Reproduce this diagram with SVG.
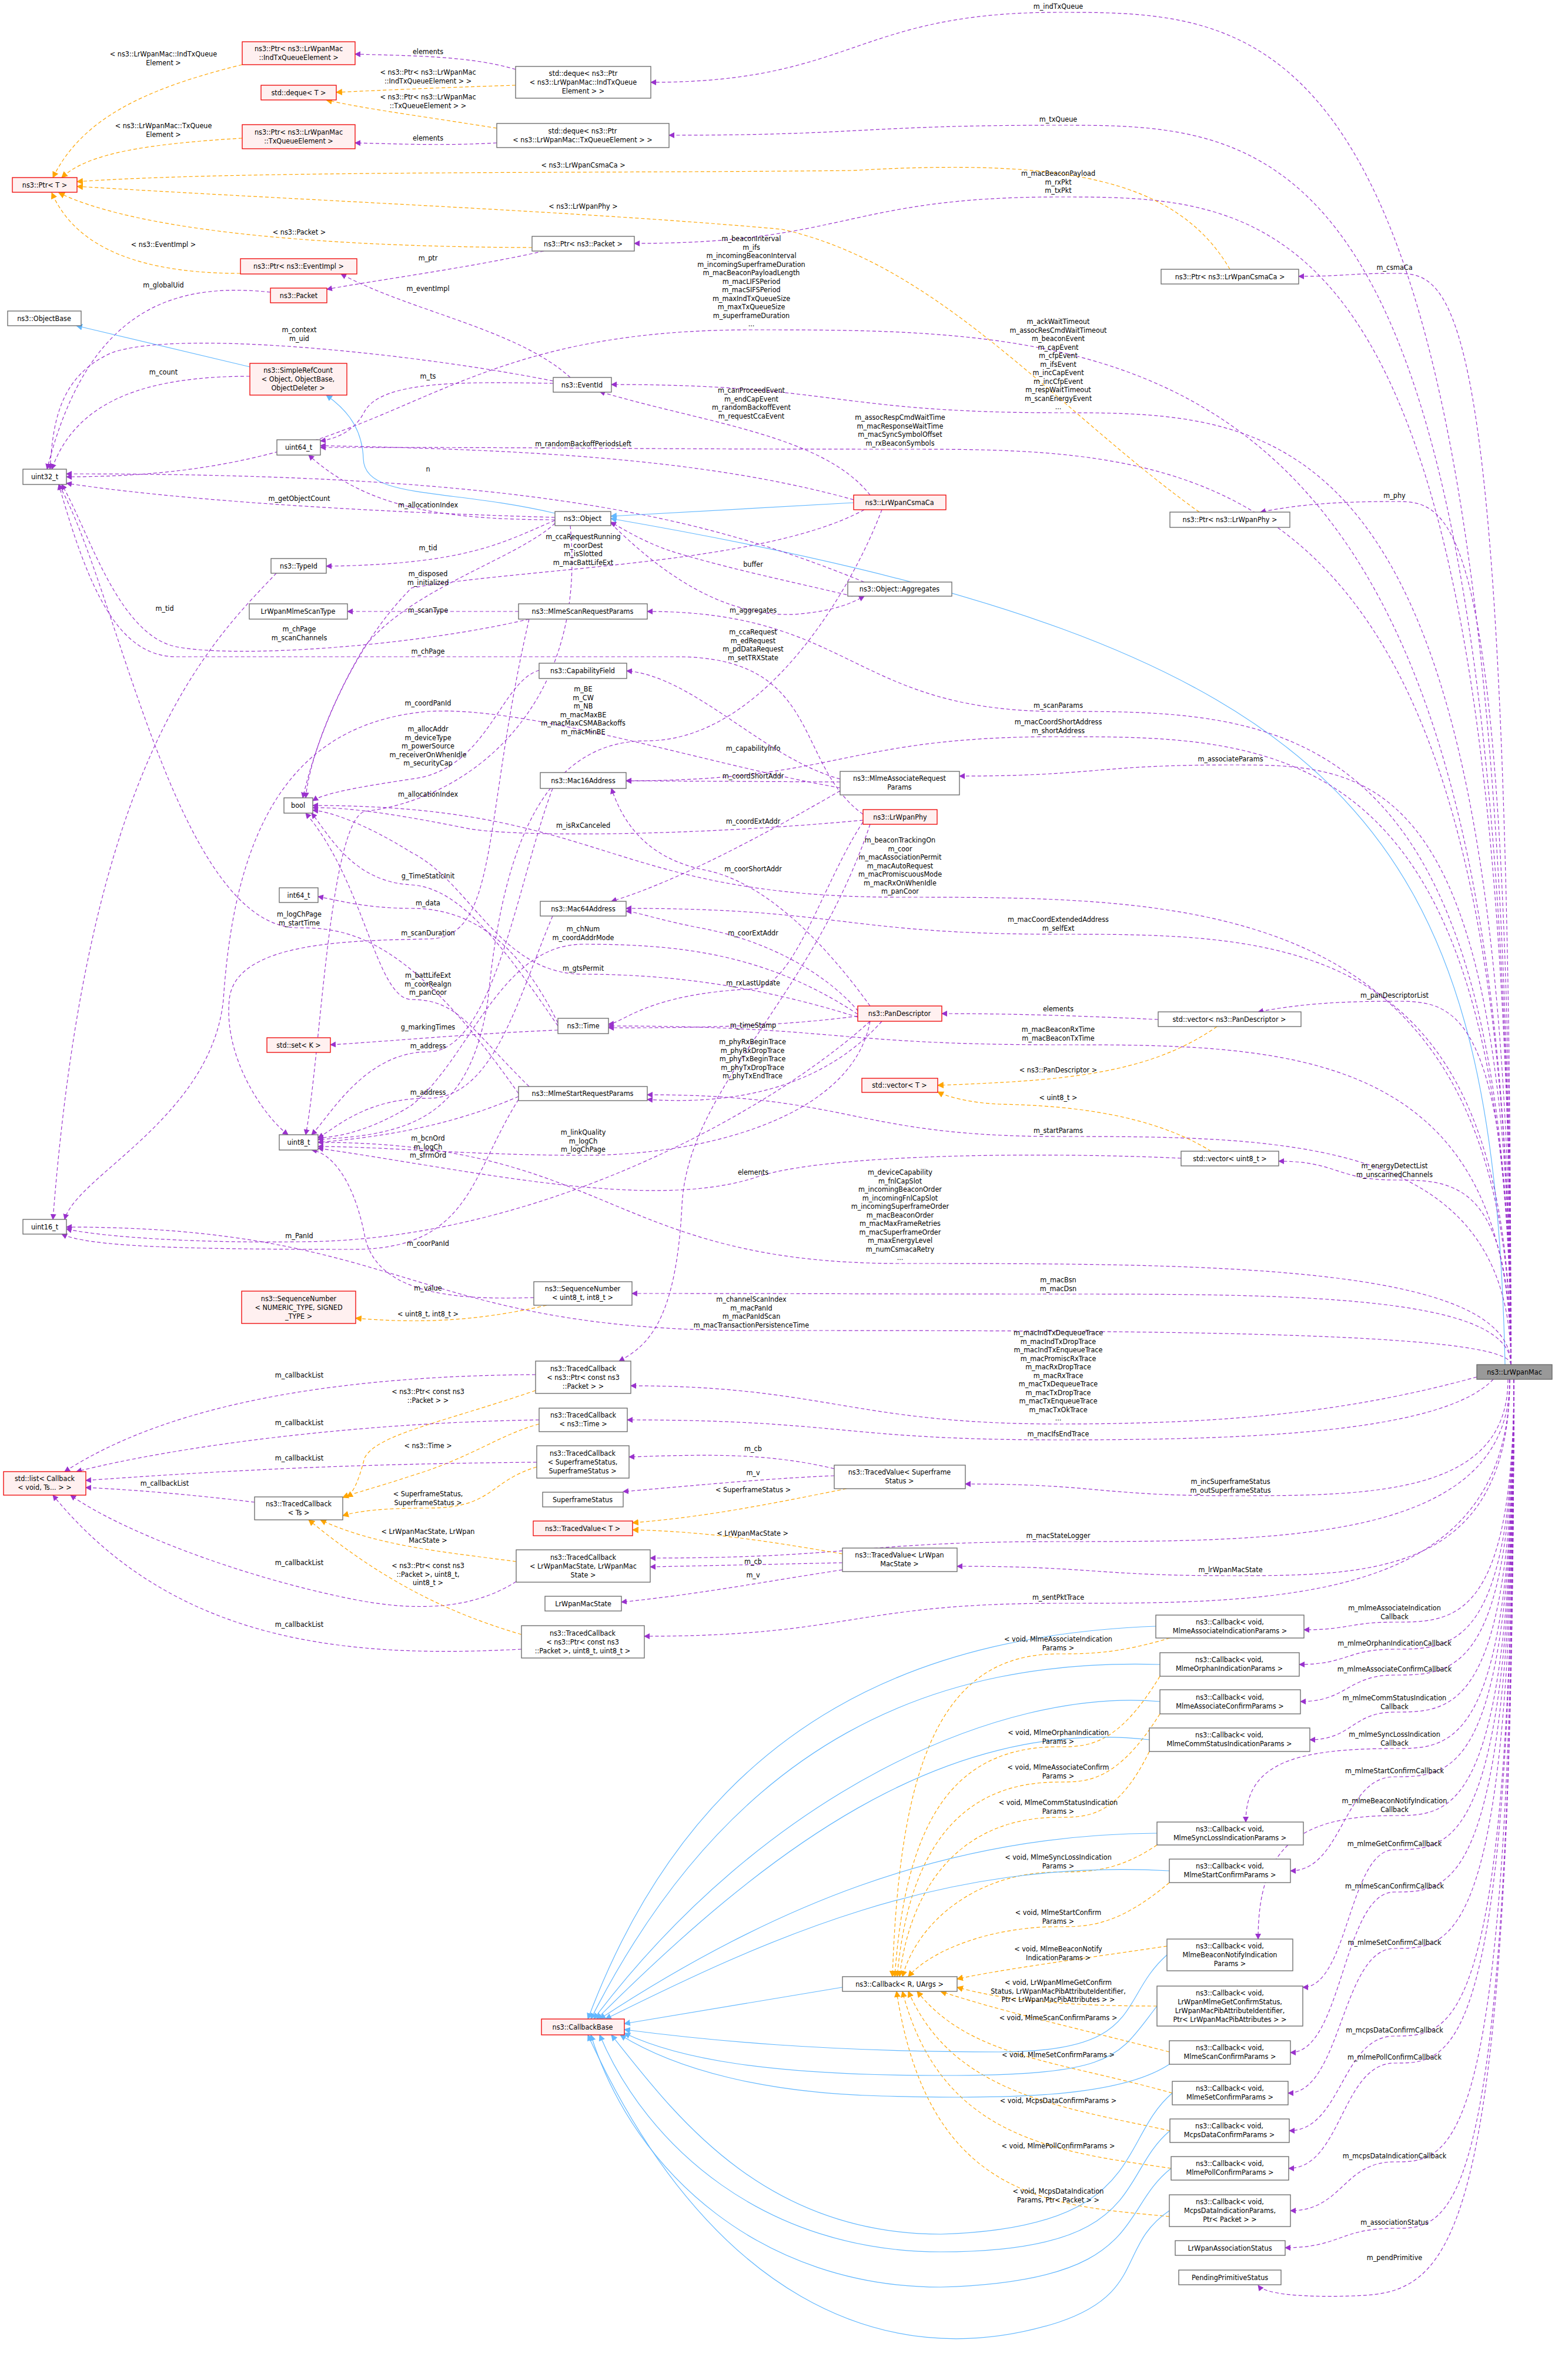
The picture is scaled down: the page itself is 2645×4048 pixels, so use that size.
<svg xmlns="http://www.w3.org/2000/svg" width="2645" height="4048" viewBox="0 0 2645 4048">
<style>
text{font-family:"DejaVu Sans Condensed","DejaVu Sans","Liberation Sans",sans-serif;font-size:12.5px;fill:#000}
.n rect{fill:#fff;stroke:#666;stroke-width:1.3}
.r rect{fill:#fff0f0;stroke:#e00;stroke-width:1.3}
.m rect{fill:#999;stroke:#666;stroke-width:1.3}
.n text,.r text,.m text,.l{text-anchor:middle}
.e path{fill:none;stroke:#9a32cd;stroke-width:1.2;stroke-dasharray:6,4;marker-end:url(#ap)}
.e path.o{stroke:#ffa500;marker-end:url(#ao)}
.e path.b{stroke:#63b8ff;stroke-dasharray:none;marker-end:url(#ab)}
</style>
<defs>
<marker id="ap" viewBox="0 0 10 10" refX="9" refY="5" markerWidth="10" markerHeight="10" markerUnits="userSpaceOnUse" orient="auto"><path d="M0,0 L10,5 L0,10 z" fill="#9a32cd"/></marker>
<marker id="ao" viewBox="0 0 10 10" refX="9" refY="5" markerWidth="11" markerHeight="11" markerUnits="userSpaceOnUse" orient="auto"><path d="M0,0 L10,5 L0,10 z" fill="#ffa500"/></marker>
<marker id="ab" viewBox="0 0 10 10" refX="9" refY="5" markerWidth="11" markerHeight="11" markerUnits="userSpaceOnUse" orient="auto"><path d="M0,0 L10,5 L0,10 z" fill="#63b8ff"/></marker>
</defs>
<rect width="2645" height="4048" fill="#fff"/>
<g id="connectors" class="e">
<path d="M2570 2321 C2570 21 2185 21 1800 21 C1453 21 1453 140 1107 140"/>
<path d="M2570 2321 C2570 213 2185 213 1800 213 C1469 213 1469 230 1138 230"/>
<path d="M2570 2321 C2570 335 2185 335 1800 335 C1440 335 1440 414 1079 414"/>
<path d="M2570 2321 C2570 465 2471 465 2372 465 C2290 465 2290 470 2209 470"/>
<path d="M2570 2321 C2570 561 1924 561 1278 561 C695 561 695 811 113 811"/>
<path d="M2570 2321 C2570 702 2185 702 1800 702 C1420 702 1420 654 1040 654"/>
<path d="M2570 2321 C2570 764 2050 764 1531 764 C1038 764 1038 761 545 761"/>
<path d="M2570 2321 C2570 853 2471 853 2372 853 C2258 853 2200 860 2144 871"/>
<path class="b" d="M2560 2321 C2540 1400 2300 1100 1039 882"/>
<path d="M2570 2321 C2570 1210 2185 1210 1800 1210 C1450 1210 1450 1040 1101 1040"/>
<path d="M2570 2321 C2570 1253 2185 1253 1800 1253 C1432 1253 1432 1328 1065 1328"/>
<path d="M2570 2321 C2570 1301 2331 1301 2093 1301 C1862 1301 1862 1320 1632 1320"/>
<path d="M2570 2321 C2570 1526 2050 1526 1531 1526 C1031 1526 1031 1370 532 1370"/>
<path d="M2570 2321 C2570 1589 2185 1589 1800 1589 C1432 1589 1432 1545 1065 1545"/>
<path d="M2570 2321 C2570 1703 2471 1703 2372 1703 C2256 1703 2200 1710 2140 1721"/>
<path d="M2570 2321 C2570 1777 2185 1777 1800 1777 C1418 1777 1418 1745 1035 1745"/>
<path d="M2570 2321 C2570 1933 2185 1933 1800 1933 C1450 1933 1450 1862 1101 1862"/>
<path d="M2570 2321 C2570 2007 2471 2007 2372 2007 C2274 2007 2274 1975 2175 1975"/>
<path d="M2570 2321 C2570 2149 2050 2149 1531 2149 C1036 2149 1036 1943 541 1943"/>
<path d="M2570 2321 C2570 2201 2185 2201 1800 2201 C1438 2201 1438 2200 1075 2200"/>
<path d="M2570 2321 C2570 2263 1924 2263 1278 2263 C695 2263 695 2087 113 2087"/>
<path d="M2512 2342 C2300 2400 2100 2422 1800 2422 C1450 2422 1400 2357 1073 2357"/>
<path d="M2540 2346 C2450 2440 2100 2449 1800 2449 C1430 2449 1430 2415 1067 2415"/>
<path d="M2565 2346 C2565 2544 2330 2544 2093 2544 C1867 2544 1867 2524 1642 2524"/>
<path d="M2568 2346 C2568 2622 2184 2622 1800 2622 C1453 2622 1453 2650 1106 2650"/>
<path d="M2568 2346 C2568 2680 2330 2680 2093 2680 C1860 2680 1860 2664 1628 2664"/>
<path d="M2568 2346 C2568 2727 2184 2727 1800 2727 C1448 2727 1448 2783 1096 2783"/>
<path d="M2575 2346 C2575 2759 2473 2759 2372 2759 C2295 2759 2295 2772 2218 2772"/>
<path d="M2575 2346 C2575 2805 2473 2805 2372 2805 C2291 2805 2291 2831 2210 2831"/>
<path d="M2575 2346 C2575 2849 2473 2849 2372 2849 C2292 2849 2292 2894 2212 2894"/>
<path d="M2575 2346 C2575 2912 2473 2912 2372 2912 C2300 2912 2300 2959 2228 2959"/>
<path d="M2575 2346 C2575 2974 2473 2974 2372 2974 C2200 2974 2119 3000 2119 3099"/>
<path d="M2575 2346 C2575 3022 2473 3022 2372 3022 C2284 3022 2284 3182 2195 3182"/>
<path d="M2575 2346 C2575 3088 2473 3088 2372 3088 C2200 3088 2140 3150 2140 3298"/>
<path d="M2575 2346 C2575 3146 2473 3146 2372 3146 C2294 3146 2294 3380 2216 3380"/>
<path d="M2575 2346 C2575 3218 2473 3218 2372 3218 C2284 3218 2284 3491 2195 3491"/>
<path d="M2575 2346 C2575 3314 2473 3314 2372 3314 C2282 3314 2282 3560 2191 3560"/>
<path d="M2575 2346 C2575 3463 2473 3463 2372 3463 C2282 3463 2282 3624 2193 3624"/>
<path d="M2575 2346 C2575 3509 2473 3509 2372 3509 C2282 3509 2282 3688 2192 3688"/>
<path d="M2575 2346 C2575 3677 2473 3677 2372 3677 C2284 3677 2284 3760 2195 3760"/>
<path d="M2575 2346 C2575 3790 2473 3790 2372 3790 C2279 3790 2279 3823 2186 3823"/>
<path d="M2575 2346 C2575 3850 2473 3900 2300 3905 C2200 3908 2150 3900 2140 3887"/>
<path d="M877 118 C800 95 700 95 604 92"/>
<path class="o" d="M877 145 C780 148 680 152 572 157"/>
<path class="o" d="M845 218 C700 195 620 185 555 170"/>
<path d="M845 243 C760 248 680 245 604 243"/>
<path class="o" d="M412 110 C250 150 140 200 90 302"/>
<path class="o" d="M412 235 C250 245 150 260 105 302"/>
<path class="o" d="M2092 458 C2000 300 1800 270 1450 290 C1000 295 400 290 131 309"/>
<path class="o" d="M2040 871 C1800 700 1600 450 1330 390 C1000 360 500 340 131 317"/>
<path class="o" d="M905 421 C600 420 250 400 100 328"/>
<path class="o" d="M409 465 C200 465 120 400 88 328"/>
<path d="M925 427 C800 455 650 475 556 492"/>
<path d="M970 642 C880 560 700 530 580 466"/>
<path d="M460 497 C300 480 150 520 80 798"/>
<path class="b" d="M425 624 L130 554"/>
<path d="M425 640 C250 640 130 680 88 798"/>
<path d="M941 648 C700 600 300 560 190 600 C100 640 90 720 85 798"/>
<path d="M941 652 C800 650 650 645 620 700 C600 740 560 748 545 750"/>
<path class="b" d="M944 873 C760 830 620 850 618 780 C616 720 580 690 555 672"/>
<path d="M1480 842 C1400 740 1200 720 1020 666"/>
<path d="M1452 850 C1200 780 900 765 545 758"/>
<path d="M1470 990 C1200 880 900 805 113 806"/>
<path d="M944 880 C600 870 300 850 113 822"/>
<path d="M944 884 C740 884 620 860 525 774"/>
<path d="M944 885 C860 920 800 960 555 963"/>
<path d="M1470 867 C1300 960 900 965 700 1000 C600 1100 540 1250 515 1357"/>
<path d="M944 890 C880 950 700 1000 620 1100 C560 1200 525 1300 520 1357"/>
<path d="M1450 1014 C1350 990 1250 970 1150 940 C1100 925 1060 900 1039 888"/>
<path d="M1039 890 C1150 1000 1250 1048 1350 1045 C1420 1040 1450 1025 1470 1014"/>
<path class="b" d="M1452 855 L1039 878"/>
<path d="M470 975 C350 1100 150 1300 90 2074"/>
<path d="M882 1040 L591 1040"/>
<path d="M900 1053 C700 1100 400 1120 300 1100 C200 1080 150 900 105 824"/>
<path d="M1468 1385 C1350 1300 1400 1117 1150 1117 L300 1117 C200 1117 150 1000 100 824"/>
<path d="M1500 867 C1450 1000 1300 1260 1100 1260 C900 1260 850 1500 830 1700 C800 1900 700 1930 541 1938"/>
<path d="M1429 1340 C1200 1300 900 1200 728 1210 C500 1230 400 1400 380 1700 C360 1900 130 2000 110 2074"/>
<path d="M917 1140 C850 1160 830 1310 700 1325 C600 1340 550 1350 532 1362"/>
<path d="M1429 1325 C1300 1290 1180 1150 1066 1141"/>
<path d="M1429 1330 L1065 1328"/>
<path d="M970 894 C1000 1200 800 1360 620 1380 C560 1400 545 1800 520 1930"/>
<path d="M1468 1395 C1200 1420 900 1425 800 1410 C700 1390 600 1372 532 1374"/>
<path d="M1429 1345 C1300 1420 1150 1500 1040 1533"/>
<path d="M1480 1711 C1400 1600 1300 1500 1200 1480 C1100 1460 1060 1400 1040 1341"/>
<path d="M949 1745 C850 1600 780 1510 700 1505 C600 1500 560 1420 530 1383"/>
<path d="M949 1740 C880 1600 800 1545 700 1545 C620 1545 570 1530 541 1525"/>
<path d="M900 1053 C820 1400 850 1597 728 1597 C600 1600 400 1600 390 1700 C380 1800 450 1900 490 1930"/>
<path d="M882 1860 C700 1600 600 1578 509 1578 C300 1580 200 1000 100 824"/>
<path d="M1460 1720 C1400 1650 1300 1600 1200 1580 C1120 1565 1080 1550 1065 1550"/>
<path d="M1459 1725 C1300 1620 1150 1606 992 1606 C850 1606 800 1800 700 1880 C620 1930 560 1935 541 1935"/>
<path d="M1459 1730 C1300 1680 1150 1657 992 1657 C850 1657 800 1500 700 1450 C620 1400 560 1380 532 1378"/>
<path d="M1468 1398 C1400 1500 1350 1682 1281 1682 C1100 1690 1060 1740 1035 1742"/>
<path d="M900 1848 C800 1750 780 1700 700 1700 C640 1700 620 1500 520 1383"/>
<path d="M1459 1728 C1300 1750 1100 1748 1035 1748"/>
<path d="M1480 1402 C1380 1700 1170 1850 1160 2050 C1150 2250 1100 2290 1053 2315"/>
<path d="M949 1752 C800 1758 650 1772 562 1777"/>
<path d="M940 1341 C880 1500 840 1789 728 1789 C620 1789 560 1900 530 1930"/>
<path d="M940 1558 C880 1700 840 1868 728 1868 C620 1868 570 1920 541 1935"/>
<path d="M882 1865 C800 1900 700 1930 541 1943"/>
<path d="M1480 1737 C1450 1900 1200 1965 992 1965 C800 1965 650 1950 541 1950"/>
<path d="M1500 1737 C1400 1850 1250 1880 1101 1870"/>
<path d="M2009 1970 C1800 1960 1400 1960 1281 2004 C1100 2060 800 1990 541 1953"/>
<path d="M1970 1734 C1800 1726 1700 1724 1602 1724"/>
<path class="o" d="M2070 1746 C1950 1830 1800 1838 1595 1846"/>
<path class="o" d="M2060 1958 C1950 1890 1800 1880 1700 1878 C1650 1876 1610 1865 1595 1857"/>
<path d="M1480 1737 C1300 1900 900 2112 509 2112 C300 2115 150 2100 113 2090"/>
<path d="M882 1870 C800 2000 800 2125 600 2125 C300 2125 150 2120 105 2099"/>
<path d="M908 2207 C800 2210 640 2210 620 2100 C600 2000 560 1960 530 1956"/>
<path class="o" d="M930 2220 C800 2250 700 2250 605 2242"/>
<path d="M911 2338 C600 2340 300 2380 110 2503"/>
<path class="o" d="M911 2365 C750 2420 640 2440 620 2480 C610 2520 600 2540 590 2546"/>
<path d="M917 2415 C600 2420 300 2460 130 2503"/>
<path class="o" d="M917 2422 C850 2440 800 2480 700 2510 C640 2530 600 2540 583 2547"/>
<path d="M913 2487 C600 2490 400 2500 146 2518"/>
<path d="M433 2555 C350 2545 250 2535 146 2530"/>
<path class="o" d="M913 2495 C830 2520 840 2565 728 2565 C650 2565 610 2570 583 2578"/>
<path class="o" d="M878 2656 C760 2640 640 2630 545 2585"/>
<path d="M878 2690 C800 2740 700 2740 600 2720 C400 2680 200 2600 120 2543"/>
<path class="o" d="M887 2780 C750 2740 640 2680 525 2585"/>
<path d="M887 2805 C600 2820 300 2800 90 2543"/>
<path d="M1419 2498 C1300 2470 1200 2474 1070 2478"/>
<path d="M1419 2510 C1300 2515 1200 2525 1060 2537"/>
<path class="o" d="M1440 2532 C1300 2560 1200 2580 1076 2590"/>
<path class="o" d="M1433 2643 C1300 2620 1200 2605 1076 2602"/>
<path d="M1433 2658 L1106 2665"/>
<path d="M1433 2670 C1300 2690 1200 2710 1057 2725"/>
<path class="o" d="M1990 2786 C1900 2813 1850 2813 1800 2813 C1600 2813 1530 3000 1518 3362"/>
<path class="o" d="M1973 2851 C1900 2971 1850 2971 1800 2971 C1620 2971 1540 3100 1522 3362"/>
<path class="o" d="M1973 2915 C1900 3031 1850 3031 1800 3031 C1630 3031 1545 3150 1526 3362"/>
<path class="o" d="M1955 2979 C1900 3091 1850 3091 1800 3091 C1640 3091 1550 3200 1530 3362"/>
<path class="o" d="M1968 3138 C1900 3184 1850 3184 1800 3184 C1660 3184 1560 3270 1535 3362"/>
<path class="o" d="M1989 3202 C1900 3277 1850 3277 1800 3277 C1680 3277 1580 3320 1545 3362"/>
<path class="o" d="M1985 3310 C1850 3330 1700 3350 1628 3366"/>
<path class="o" d="M1968 3412 C1800 3412 1700 3400 1628 3380"/>
<path class="o" d="M1989 3490 C1800 3442 1700 3420 1600 3387"/>
<path class="o" d="M1994 3560 C1800 3505 1650 3500 1560 3387"/>
<path class="o" d="M1990 3624 C1800 3583 1620 3560 1545 3387"/>
<path class="o" d="M1992 3688 C1800 3660 1600 3640 1535 3387"/>
<path class="o" d="M1989 3770 C1800 3751 1580 3750 1525 3387"/>
<path class="b" d="M1433 3380 L1062 3442"/>
<path class="b" d="M1966 2766 C1600 2780 1200 2900 1000 3434"/>
<path class="b" d="M1973 2831 C1600 2820 1250 2950 1005 3434"/>
<path class="b" d="M1973 2894 C1700 2870 1300 3050 1010 3434"/>
<path class="b" d="M1955 2959 C1600 2920 1300 3150 1015 3434"/>
<path class="b" d="M1968 3118 C1600 3120 1300 3250 1020 3434"/>
<path class="b" d="M1989 3182 C1600 3160 1300 3300 1030 3434"/>
<path class="b" d="M1985 3325 C1900 3400 1950 3490 1700 3490 C1400 3490 1200 3470 1062 3452"/>
<path class="b" d="M1968 3412 C1900 3500 1900 3530 1600 3530 C1300 3530 1150 3500 1062 3458"/>
<path class="b" d="M1989 3511 C1900 3570 1700 3570 1500 3565 C1300 3560 1150 3520 1055 3461"/>
<path class="b" d="M1994 3560 C1900 3640 1950 3790 1600 3800 C1300 3800 1150 3600 1040 3461"/>
<path class="b" d="M1990 3624 C1900 3700 1950 3830 1600 3830 C1300 3830 1100 3650 1020 3461"/>
<path class="b" d="M1992 3688 C1900 3760 1950 3880 1600 3890 C1300 3890 1080 3700 1005 3461"/>
<path class="b" d="M1989 3760 C1900 3820 1950 3900 1800 3950 C1500 4045 1200 3900 1000 3461"/>
</g>
<g id="labels">
<text class="l" x="1800" y="15">m_indTxQueue</text>
<text class="l" x="1800" y="207">m_txQueue</text>
<text class="l" x="1800" y="299">m_macBeaconPayload<tspan x="1800" dy="14.5">m_rxPkt</tspan><tspan x="1800" dy="14.5">m_txPkt</tspan></text>
<text class="l" x="2372" y="459">m_csmaCa</text>
<text class="l" x="1278" y="410">m_beaconInterval<tspan x="1278" dy="14.5">m_ifs</tspan><tspan x="1278" dy="14.5">m_incomingBeaconInterval</tspan><tspan x="1278" dy="14.5">m_incomingSuperframeDuration</tspan><tspan x="1278" dy="14.5">m_macBeaconPayloadLength</tspan><tspan x="1278" dy="14.5">m_macLIFSPeriod</tspan><tspan x="1278" dy="14.5">m_macSIFSPeriod</tspan><tspan x="1278" dy="14.5">m_maxIndTxQueueSize</tspan><tspan x="1278" dy="14.5">m_maxTxQueueSize</tspan><tspan x="1278" dy="14.5">m_superframeDuration</tspan><tspan x="1278" dy="14.5">...</tspan></text>
<text class="l" x="1800" y="551">m_ackWaitTimeout<tspan x="1800" dy="14.5">m_assocResCmdWaitTimeout</tspan><tspan x="1800" dy="14.5">m_beaconEvent</tspan><tspan x="1800" dy="14.5">m_capEvent</tspan><tspan x="1800" dy="14.5">m_cfpEvent</tspan><tspan x="1800" dy="14.5">m_ifsEvent</tspan><tspan x="1800" dy="14.5">m_incCapEvent</tspan><tspan x="1800" dy="14.5">m_incCfpEvent</tspan><tspan x="1800" dy="14.5">m_respWaitTimeout</tspan><tspan x="1800" dy="14.5">m_scanEnergyEvent</tspan><tspan x="1800" dy="14.5">...</tspan></text>
<text class="l" x="1531" y="714">m_assocRespCmdWaitTime<tspan x="1531" dy="14.5">m_macResponseWaitTime</tspan><tspan x="1531" dy="14.5">m_macSyncSymbolOffset</tspan><tspan x="1531" dy="14.5">m_rxBeaconSymbols</tspan></text>
<text class="l" x="2372" y="847">m_phy</text>
<text class="l" x="1800" y="1204">m_scanParams</text>
<text class="l" x="1800" y="1232">m_macCoordShortAddress<tspan x="1800" dy="14.5">m_shortAddress</tspan></text>
<text class="l" x="2093" y="1295">m_associateParams</text>
<text class="l" x="1531" y="1433">m_beaconTrackingOn<tspan x="1531" dy="14.5">m_coor</tspan><tspan x="1531" dy="14.5">m_macAssociationPermit</tspan><tspan x="1531" dy="14.5">m_macAutoRequest</tspan><tspan x="1531" dy="14.5">m_macPromiscuousMode</tspan><tspan x="1531" dy="14.5">m_macRxOnWhenIdle</tspan><tspan x="1531" dy="14.5">m_panCoor</tspan></text>
<text class="l" x="1800" y="1568">m_macCoordExtendedAddress<tspan x="1800" dy="14.5">m_selfExt</tspan></text>
<text class="l" x="2372" y="1697">m_panDescriptorList</text>
<text class="l" x="1800" y="1755">m_macBeaconRxTime<tspan x="1800" dy="14.5">m_macBeaconTxTime</tspan></text>
<text class="l" x="1800" y="1927">m_startParams</text>
<text class="l" x="2372" y="1987">m_energyDetectList<tspan x="2372" dy="14.5">m_unscannedChannels</tspan></text>
<text class="l" x="1531" y="1998">m_deviceCapability<tspan x="1531" dy="14.5">m_fnlCapSlot</tspan><tspan x="1531" dy="14.5">m_incomingBeaconOrder</tspan><tspan x="1531" dy="14.5">m_incomingFnlCapSlot</tspan><tspan x="1531" dy="14.5">m_incomingSuperframeOrder</tspan><tspan x="1531" dy="14.5">m_macBeaconOrder</tspan><tspan x="1531" dy="14.5">m_macMaxFrameRetries</tspan><tspan x="1531" dy="14.5">m_macSuperframeOrder</tspan><tspan x="1531" dy="14.5">m_maxEnergyLevel</tspan><tspan x="1531" dy="14.5">m_numCsmacaRetry</tspan><tspan x="1531" dy="14.5">...</tspan></text>
<text class="l" x="1800" y="2181">m_macBsn<tspan x="1800" dy="14.5">m_macDsn</tspan></text>
<text class="l" x="1278" y="2214">m_channelScanIndex<tspan x="1278" dy="14.5">m_macPanId</tspan><tspan x="1278" dy="14.5">m_macPanIdScan</tspan><tspan x="1278" dy="14.5">m_macTransactionPersistenceTime</tspan></text>
<text class="l" x="1800" y="2271">m_macIndTxDequeueTrace<tspan x="1800" dy="14.5">m_macIndTxDropTrace</tspan><tspan x="1800" dy="14.5">m_macIndTxEnqueueTrace</tspan><tspan x="1800" dy="14.5">m_macPromiscRxTrace</tspan><tspan x="1800" dy="14.5">m_macRxDropTrace</tspan><tspan x="1800" dy="14.5">m_macRxTrace</tspan><tspan x="1800" dy="14.5">m_macTxDequeueTrace</tspan><tspan x="1800" dy="14.5">m_macTxDropTrace</tspan><tspan x="1800" dy="14.5">m_macTxEnqueueTrace</tspan><tspan x="1800" dy="14.5">m_macTxOkTrace</tspan><tspan x="1800" dy="14.5">...</tspan></text>
<text class="l" x="1800" y="2443">m_macIfsEndTrace</text>
<text class="l" x="2093" y="2524">m_incSuperframeStatus<tspan x="2093" dy="14.5">m_outSuperframeStatus</tspan></text>
<text class="l" x="1800" y="2616">m_macStateLogger</text>
<text class="l" x="2093" y="2674">m_lrWpanMacState</text>
<text class="l" x="1800" y="2721">m_sentPktTrace</text>
<text class="l" x="2372" y="2739">m_mlmeAssociateIndication<tspan x="2372" dy="14.5">Callback</tspan></text>
<text class="l" x="2372" y="2799">m_mlmeOrphanIndicationCallback</text>
<text class="l" x="2372" y="2843">m_mlmeAssociateConfirmCallback</text>
<text class="l" x="2372" y="2892">m_mlmeCommStatusIndication<tspan x="2372" dy="14.5">Callback</tspan></text>
<text class="l" x="2372" y="2954">m_mlmeSyncLossIndication<tspan x="2372" dy="14.5">Callback</tspan></text>
<text class="l" x="2372" y="3016">m_mlmeStartConfirmCallback</text>
<text class="l" x="2372" y="3067">m_mlmeBeaconNotifyIndication<tspan x="2372" dy="14.5">Callback</tspan></text>
<text class="l" x="2372" y="3140">m_mlmeGetConfirmCallback</text>
<text class="l" x="2372" y="3212">m_mlmeScanConfirmCallback</text>
<text class="l" x="2372" y="3308">m_mlmeSetConfirmCallback</text>
<text class="l" x="2372" y="3457">m_mcpsDataConfirmCallback</text>
<text class="l" x="2372" y="3503">m_mlmePollConfirmCallback</text>
<text class="l" x="2372" y="3671">m_mcpsDataIndicationCallback</text>
<text class="l" x="2372" y="3784">m_associationStatus</text>
<text class="l" x="2372" y="3844">m_pendPrimitive</text>
<text class="l" x="728" y="92">elements</text>
<text class="l" x="728" y="127">&lt; ns3::Ptr&lt; ns3::LrWpanMac<tspan x="728" dy="14.5">::IndTxQueueElement &gt; &gt;</tspan></text>
<text class="l" x="728" y="169">&lt; ns3::Ptr&lt; ns3::LrWpanMac<tspan x="728" dy="14.5">::TxQueueElement &gt; &gt;</tspan></text>
<text class="l" x="728" y="239">elements</text>
<text class="l" x="278" y="96">&lt; ns3::LrWpanMac::IndTxQueue<tspan x="278" dy="14.5">Element &gt;</tspan></text>
<text class="l" x="278" y="218">&lt; ns3::LrWpanMac::TxQueue<tspan x="278" dy="14.5">Element &gt;</tspan></text>
<text class="l" x="992" y="285">&lt; ns3::LrWpanCsmaCa &gt;</text>
<text class="l" x="992" y="355">&lt; ns3::LrWpanPhy &gt;</text>
<text class="l" x="509" y="399">&lt; ns3::Packet &gt;</text>
<text class="l" x="278" y="420">&lt; ns3::EventImpl &gt;</text>
<text class="l" x="728" y="443">m_ptr</text>
<text class="l" x="728" y="495">m_eventImpl</text>
<text class="l" x="278" y="489">m_globalUid</text>
<text class="l" x="278" y="637">m_count</text>
<text class="l" x="509" y="565">m_context<tspan x="509" dy="14.5">m_uid</tspan></text>
<text class="l" x="728" y="644">m_ts</text>
<text class="l" x="1278" y="668">m_canProceedEvent<tspan x="1278" dy="14.5">m_endCapEvent</tspan><tspan x="1278" dy="14.5">m_randomBackoffEvent</tspan><tspan x="1278" dy="14.5">m_requestCcaEvent</tspan></text>
<text class="l" x="992" y="759">m_randomBackoffPeriodsLeft</text>
<text class="l" x="728" y="802">n</text>
<text class="l" x="509" y="852">m_getObjectCount</text>
<text class="l" x="728" y="863">m_allocationIndex</text>
<text class="l" x="728" y="936">m_tid</text>
<text class="l" x="992" y="917">m_ccaRequestRunning<tspan x="992" dy="14.5">m_coorDest</tspan><tspan x="992" dy="14.5">m_isSlotted</tspan><tspan x="992" dy="14.5">m_macBattLifeExt</tspan></text>
<text class="l" x="728" y="980">m_disposed<tspan x="728" dy="14.5">m_initialized</tspan></text>
<text class="l" x="1281" y="964">buffer</text>
<text class="l" x="1281" y="1042">m_aggregates</text>
<text class="l" x="280" y="1039">m_tid</text>
<text class="l" x="728" y="1042">m_scanType</text>
<text class="l" x="509" y="1074">m_chPage<tspan x="509" dy="14.5">m_scanChannels</tspan></text>
<text class="l" x="728" y="1112">m_chPage</text>
<text class="l" x="1281" y="1079">m_ccaRequest<tspan x="1281" dy="14.5">m_edRequest</tspan><tspan x="1281" dy="14.5">m_pdDataRequest</tspan><tspan x="1281" dy="14.5">m_setTRXState</tspan></text>
<text class="l" x="992" y="1176">m_BE<tspan x="992" dy="14.5">m_CW</tspan><tspan x="992" dy="14.5">m_NB</tspan><tspan x="992" dy="14.5">m_macMaxBE</tspan><tspan x="992" dy="14.5">m_macMaxCSMABackoffs</tspan><tspan x="992" dy="14.5">m_macMinBE</tspan></text>
<text class="l" x="728" y="1200">m_coordPanId</text>
<text class="l" x="728" y="1244">m_allocAddr<tspan x="728" dy="14.5">m_deviceType</tspan><tspan x="728" dy="14.5">m_powerSource</tspan><tspan x="728" dy="14.5">m_receiverOnWhenIdle</tspan><tspan x="728" dy="14.5">m_securityCap</tspan></text>
<text class="l" x="1281" y="1277">m_capabilityInfo</text>
<text class="l" x="1281" y="1324">m_coordShortAddr</text>
<text class="l" x="728" y="1355">m_allocationIndex</text>
<text class="l" x="992" y="1408">m_isRxCanceled</text>
<text class="l" x="1281" y="1401">m_coordExtAddr</text>
<text class="l" x="1281" y="1482">m_coorShortAddr</text>
<text class="l" x="728" y="1494">g_TimeStaticInit</text>
<text class="l" x="728" y="1540">m_data</text>
<text class="l" x="509" y="1559">m_logChPage<tspan x="509" dy="14.5">m_startTime</tspan></text>
<text class="l" x="728" y="1591">m_scanDuration</text>
<text class="l" x="1281" y="1591">m_coorExtAddr</text>
<text class="l" x="992" y="1584">m_chNum<tspan x="992" dy="14.5">m_coordAddrMode</tspan></text>
<text class="l" x="992" y="1651">m_gtsPermit</text>
<text class="l" x="1281" y="1676">m_rxLastUpdate</text>
<text class="l" x="728" y="1663">m_battLifeExt<tspan x="728" dy="14.5">m_coorRealgn</tspan><tspan x="728" dy="14.5">m_panCoor</tspan></text>
<text class="l" x="1281" y="1748">m_timeStamp</text>
<text class="l" x="1280" y="1776">m_phyRxBeginTrace<tspan x="1280" dy="14.5">m_phyRxDropTrace</tspan><tspan x="1280" dy="14.5">m_phyTxBeginTrace</tspan><tspan x="1280" dy="14.5">m_phyTxDropTrace</tspan><tspan x="1280" dy="14.5">m_phyTxEndTrace</tspan></text>
<text class="l" x="728" y="1751">g_markingTimes</text>
<text class="l" x="728" y="1783">m_address</text>
<text class="l" x="728" y="1862">m_address</text>
<text class="l" x="728" y="1940">m_bcnOrd<tspan x="728" dy="14.5">m_logCh</tspan><tspan x="728" dy="14.5">m_sfrmOrd</tspan></text>
<text class="l" x="992" y="1930">m_linkQuality<tspan x="992" dy="14.5">m_logCh</tspan><tspan x="992" dy="14.5">m_logChPage</tspan></text>
<text class="l" x="1281" y="1998">elements</text>
<text class="l" x="1800" y="1720">elements</text>
<text class="l" x="1800" y="1824">&lt; ns3::PanDescriptor &gt;</text>
<text class="l" x="1800" y="1871">&lt; uint8_t &gt;</text>
<text class="l" x="509" y="2106">m_PanId</text>
<text class="l" x="728" y="2119">m_coorPanId</text>
<text class="l" x="728" y="2195">m_value</text>
<text class="l" x="728" y="2239">&lt; uint8_t, int8_t &gt;</text>
<text class="l" x="509" y="2343">m_callbackList</text>
<text class="l" x="728" y="2371">&lt; ns3::Ptr&lt; const ns3<tspan x="728" dy="14.5">::Packet &gt; &gt;</tspan></text>
<text class="l" x="509" y="2424">m_callbackList</text>
<text class="l" x="728" y="2463">&lt; ns3::Time &gt;</text>
<text class="l" x="509" y="2484">m_callbackList</text>
<text class="l" x="280" y="2527">m_callbackList</text>
<text class="l" x="728" y="2545">&lt; SuperframeStatus,<tspan x="728" dy="14.5">SuperframeStatus &gt;</tspan></text>
<text class="l" x="728" y="2609">&lt; LrWpanMacState, LrWpan<tspan x="728" dy="14.5">MacState &gt;</tspan></text>
<text class="l" x="509" y="2662">m_callbackList</text>
<text class="l" x="728" y="2667">&lt; ns3::Ptr&lt; const ns3<tspan x="728" dy="14.5">::Packet &gt;, uint8_t,</tspan><tspan x="728" dy="14.5">uint8_t &gt;</tspan></text>
<text class="l" x="509" y="2767">m_callbackList</text>
<text class="l" x="1281" y="2468">m_cb</text>
<text class="l" x="1281" y="2509">m_v</text>
<text class="l" x="1281" y="2538">&lt; SuperframeStatus &gt;</text>
<text class="l" x="1280" y="2612">&lt; LrWpanMacState &gt;</text>
<text class="l" x="1281" y="2660">m_cb</text>
<text class="l" x="1281" y="2683">m_v</text>
<text class="l" x="1800" y="2792">&lt; void, MlmeAssociateIndication<tspan x="1800" dy="14.5">Params &gt;</tspan></text>
<text class="l" x="1800" y="2951">&lt; void, MlmeOrphanIndication<tspan x="1800" dy="14.5">Params &gt;</tspan></text>
<text class="l" x="1800" y="3010">&lt; void, MlmeAssociateConfirm<tspan x="1800" dy="14.5">Params &gt;</tspan></text>
<text class="l" x="1800" y="3070">&lt; void, MlmeCommStatusIndication<tspan x="1800" dy="14.5">Params &gt;</tspan></text>
<text class="l" x="1800" y="3163">&lt; void, MlmeSyncLossIndication<tspan x="1800" dy="14.5">Params &gt;</tspan></text>
<text class="l" x="1800" y="3257">&lt; void, MlmeStartConfirm<tspan x="1800" dy="14.5">Params &gt;</tspan></text>
<text class="l" x="1800" y="3319">&lt; void, MlmeBeaconNotify<tspan x="1800" dy="14.5">IndicationParams &gt;</tspan></text>
<text class="l" x="1800" y="3376">&lt; void, LrWpanMlmeGetConfirm<tspan x="1800" dy="14.5">Status, LrWpanMacPibAttributeIdentifier,</tspan><tspan x="1800" dy="14.5">Ptr&lt; LrWpanMacPibAttributes &gt; &gt;</tspan></text>
<text class="l" x="1800" y="3436">&lt; void, MlmeScanConfirmParams &gt;</text>
<text class="l" x="1800" y="3499">&lt; void, MlmeSetConfirmParams &gt;</text>
<text class="l" x="1800" y="3577">&lt; void, McpsDataConfirmParams &gt;</text>
<text class="l" x="1800" y="3654">&lt; void, MlmePollConfirmParams &gt;</text>
<text class="l" x="1800" y="3731">&lt; void, McpsDataIndication<tspan x="1800" dy="14.5">Params, Ptr&lt; Packet &gt; &gt;</tspan></text>
</g>
<g id="mac" class="m"><rect x="2512" y="2321" width="128" height="25"/><text x="2576" y="2338">ns3::LrWpanMac</text></g>
<g id="ptrIndTx" class="r"><rect x="412" y="71" width="192" height="39"/><text x="508" y="87">ns3::Ptr&lt; ns3::LrWpanMac</text><text x="508" y="102">::IndTxQueueElement &gt;</text></g>
<g id="dequeT" class="r"><rect x="444" y="145" width="128" height="25"/><text x="508" y="162">std::deque&lt; T &gt;</text></g>
<g id="dequeInd" class="n"><rect x="877" y="113" width="230" height="54"/><text x="992" y="129">std::deque&lt; ns3::Ptr</text><text x="992" y="144">&lt; ns3::LrWpanMac::IndTxQueue</text><text x="992" y="159">Element &gt; &gt;</text></g>
<g id="ptrTx" class="r"><rect x="412" y="212" width="192" height="41"/><text x="508" y="229">ns3::Ptr&lt; ns3::LrWpanMac</text><text x="508" y="244">::TxQueueElement &gt;</text></g>
<g id="dequeTx" class="n"><rect x="845" y="210" width="293" height="41"/><text x="991" y="227">std::deque&lt; ns3::Ptr</text><text x="991" y="242">&lt; ns3::LrWpanMac::TxQueueElement &gt; &gt;</text></g>
<g id="ptrT" class="r"><rect x="21" y="302" width="110" height="25"/><text x="76" y="319">ns3::Ptr&lt; T &gt;</text></g>
<g id="ptrPkt" class="n"><rect x="905" y="402" width="174" height="25"/><text x="992" y="419">ns3::Ptr&lt; ns3::Packet &gt;</text></g>
<g id="ptrEv" class="r"><rect x="409" y="440" width="198" height="26"/><text x="508" y="457">ns3::Ptr&lt; ns3::EventImpl &gt;</text></g>
<g id="packet" class="r"><rect x="460" y="490" width="96" height="25"/><text x="508" y="507">ns3::Packet</text></g>
<g id="objbase" class="n"><rect x="13" y="529" width="125" height="25"/><text x="75" y="546">ns3::ObjectBase</text></g>
<g id="simple" class="r"><rect x="425" y="618" width="165" height="54"/><text x="507" y="634">ns3::SimpleRefCount</text><text x="507" y="649">&lt; Object, ObjectBase,</text><text x="507" y="664">ObjectDeleter &gt;</text></g>
<g id="eventid" class="n"><rect x="941" y="642" width="99" height="25"/><text x="990" y="659">ns3::EventId</text></g>
<g id="u64" class="n"><rect x="471" y="748" width="74" height="26"/><text x="508" y="765">uint64_t</text></g>
<g id="u32" class="n"><rect x="39" y="798" width="74" height="26"/><text x="76" y="815">uint32_t</text></g>
<g id="object" class="n"><rect x="944" y="870" width="95" height="24"/><text x="991" y="886">ns3::Object</text></g>
<g id="typeid" class="n"><rect x="461" y="950" width="94" height="25"/><text x="508" y="967">ns3::TypeId</text></g>
<g id="csmaPtr" class="n"><rect x="1975" y="458" width="234" height="25"/><text x="2092" y="475">ns3::Ptr&lt; ns3::LrWpanCsmaCa &gt;</text></g>
<g id="csma" class="r"><rect x="1452" y="842" width="157" height="25"/><text x="1530" y="859">ns3::LrWpanCsmaCa</text></g>
<g id="phyPtr" class="n"><rect x="1990" y="871" width="204" height="26"/><text x="2092" y="888">ns3::Ptr&lt; ns3::LrWpanPhy &gt;</text></g>
<g id="aggr" class="n"><rect x="1442" y="990" width="177" height="24"/><text x="1530" y="1006">ns3::Object::Aggregates</text></g>
<g id="scanType" class="n"><rect x="424" y="1027" width="167" height="26"/><text x="507" y="1044">LrWpanMlmeScanType</text></g>
<g id="scanReq" class="n"><rect x="882" y="1027" width="219" height="26"/><text x="991" y="1044">ns3::MlmeScanRequestParams</text></g>
<g id="cap" class="n"><rect x="917" y="1128" width="149" height="26"/><text x="991" y="1145">ns3::CapabilityField</text></g>
<g id="mac16" class="n"><rect x="919" y="1314" width="146" height="27"/><text x="992" y="1332">ns3::Mac16Address</text></g>
<g id="bool" class="n"><rect x="483" y="1357" width="49" height="26"/><text x="507" y="1374">bool</text></g>
<g id="int64" class="n"><rect x="475" y="1510" width="66" height="25"/><text x="508" y="1527">int64_t</text></g>
<g id="mac64" class="n"><rect x="919" y="1533" width="146" height="25"/><text x="992" y="1550">ns3::Mac64Address</text></g>
<g id="time" class="n"><rect x="949" y="1732" width="86" height="26"/><text x="992" y="1749">ns3::Time</text></g>
<g id="set" class="r"><rect x="454" y="1765" width="108" height="25"/><text x="508" y="1782">std::set&lt; K &gt;</text></g>
<g id="startReq" class="n"><rect x="882" y="1848" width="219" height="24"/><text x="991" y="1864">ns3::MlmeStartRequestParams</text></g>
<g id="u8" class="n"><rect x="475" y="1930" width="66" height="26"/><text x="508" y="1947">uint8_t</text></g>
<g id="assocReq" class="n"><rect x="1429" y="1312" width="203" height="40"/><text x="1530" y="1328">ns3::MlmeAssociateRequest</text><text x="1530" y="1343">Params</text></g>
<g id="phy" class="r"><rect x="1468" y="1377" width="126" height="25"/><text x="1531" y="1394">ns3::LrWpanPhy</text></g>
<g id="panDesc" class="r"><rect x="1459" y="1711" width="143" height="26"/><text x="1530" y="1728">ns3::PanDescriptor</text></g>
<g id="vecPan" class="n"><rect x="1970" y="1721" width="243" height="25"/><text x="2091" y="1738">std::vector&lt; ns3::PanDescriptor &gt;</text></g>
<g id="vecT" class="r"><rect x="1466" y="1834" width="129" height="24"/><text x="1530" y="1850">std::vector&lt; T &gt;</text></g>
<g id="vecU8" class="n"><rect x="2009" y="1958" width="166" height="25"/><text x="2092" y="1975">std::vector&lt; uint8_t &gt;</text></g>
<g id="u16" class="n"><rect x="39" y="2074" width="74" height="25"/><text x="76" y="2091">uint16_t</text></g>
<g id="seqNum" class="r"><rect x="411" y="2196" width="194" height="55"/><text x="508" y="2213">ns3::SequenceNumber</text><text x="508" y="2228">&lt; NUMERIC_TYPE, SIGNED</text><text x="508" y="2243">_TYPE &gt;</text></g>
<g id="seqU8" class="n"><rect x="908" y="2180" width="167" height="40"/><text x="991" y="2196">ns3::SequenceNumber</text><text x="991" y="2211">&lt; uint8_t, int8_t &gt;</text></g>
<g id="tcPkt" class="n"><rect x="911" y="2315" width="162" height="55"/><text x="992" y="2332">ns3::TracedCallback</text><text x="992" y="2347">&lt; ns3::Ptr&lt; const ns3</text><text x="992" y="2362">::Packet &gt; &gt;</text></g>
<g id="tcTime" class="n"><rect x="917" y="2395" width="150" height="40"/><text x="992" y="2411">ns3::TracedCallback</text><text x="992" y="2426">&lt; ns3::Time &gt;</text></g>
<g id="tcSfs" class="n"><rect x="913" y="2459" width="157" height="55"/><text x="991" y="2476">ns3::TracedCallback</text><text x="991" y="2491">&lt; SuperframeStatus,</text><text x="991" y="2506">SuperframeStatus &gt;</text></g>
<g id="list" class="r"><rect x="6" y="2503" width="140" height="40"/><text x="76" y="2519">std::list&lt; Callback</text><text x="76" y="2534">&lt; void, Ts... &gt; &gt;</text></g>
<g id="tcTs" class="n"><rect x="433" y="2546" width="150" height="39"/><text x="508" y="2562">ns3::TracedCallback</text><text x="508" y="2577">&lt; Ts &gt;</text></g>
<g id="sfs" class="n"><rect x="923" y="2538" width="137" height="25"/><text x="991" y="2555">SuperframeStatus</text></g>
<g id="tvT" class="r"><rect x="907" y="2587" width="169" height="25"/><text x="991" y="2604">ns3::TracedValue&lt; T &gt;</text></g>
<g id="tcState" class="n"><rect x="878" y="2636" width="228" height="55"/><text x="992" y="2653">ns3::TracedCallback</text><text x="992" y="2668">&lt; LrWpanMacState, LrWpanMac</text><text x="992" y="2683">State &gt;</text></g>
<g id="state" class="n"><rect x="927" y="2715" width="130" height="25"/><text x="992" y="2732">LrWpanMacState</text></g>
<g id="tcPkt88" class="n"><rect x="887" y="2765" width="209" height="55"/><text x="991" y="2782">ns3::TracedCallback</text><text x="991" y="2797">&lt; ns3::Ptr&lt; const ns3</text><text x="991" y="2812">::Packet &gt;, uint8_t, uint8_t &gt;</text></g>
<g id="tvSfs" class="n"><rect x="1419" y="2492" width="223" height="40"/><text x="1530" y="2508">ns3::TracedValue&lt; Superframe</text><text x="1530" y="2523">Status &gt;</text></g>
<g id="tvState" class="n"><rect x="1433" y="2633" width="195" height="40"/><text x="1530" y="2649">ns3::TracedValue&lt; LrWpan</text><text x="1530" y="2664">MacState &gt;</text></g>
<g id="cbAssocInd" class="n"><rect x="1966" y="2747" width="252" height="39"/><text x="2092" y="2763">ns3::Callback&lt; void,</text><text x="2092" y="2778">MlmeAssociateIndicationParams &gt;</text></g>
<g id="cbOrphan" class="n"><rect x="1973" y="2811" width="237" height="40"/><text x="2091" y="2827">ns3::Callback&lt; void,</text><text x="2091" y="2842">MlmeOrphanIndicationParams &gt;</text></g>
<g id="cbAssocConf" class="n"><rect x="1973" y="2874" width="239" height="41"/><text x="2092" y="2891">ns3::Callback&lt; void,</text><text x="2092" y="2906">MlmeAssociateConfirmParams &gt;</text></g>
<g id="cbComm" class="n"><rect x="1955" y="2939" width="273" height="40"/><text x="2091" y="2955">ns3::Callback&lt; void,</text><text x="2091" y="2970">MlmeCommStatusIndicationParams &gt;</text></g>
<g id="cbBase" class="r"><rect x="921" y="3434" width="141" height="27"/><text x="991" y="3452">ns3::CallbackBase</text></g>
<g id="cbSync" class="n"><rect x="1968" y="3099" width="249" height="39"/><text x="2092" y="3115">ns3::Callback&lt; void,</text><text x="2092" y="3130">MlmeSyncLossIndicationParams &gt;</text></g>
<g id="cbStart" class="n"><rect x="1989" y="3162" width="206" height="40"/><text x="2092" y="3178">ns3::Callback&lt; void,</text><text x="2092" y="3193">MlmeStartConfirmParams &gt;</text></g>
<g id="cbBeacon" class="n"><rect x="1985" y="3298" width="214" height="54"/><text x="2092" y="3314">ns3::Callback&lt; void,</text><text x="2092" y="3329">MlmeBeaconNotifyIndication</text><text x="2092" y="3344">Params &gt;</text></g>
<g id="cbR" class="n"><rect x="1433" y="3362" width="195" height="25"/><text x="1530" y="3379">ns3::Callback&lt; R, UArgs &gt;</text></g>
<g id="cbGet" class="n"><rect x="1968" y="3378" width="248" height="68"/><text x="2092" y="3394">ns3::Callback&lt; void,</text><text x="2092" y="3409">LrWpanMlmeGetConfirmStatus,</text><text x="2092" y="3424">LrWpanMacPibAttributeIdentifier,</text><text x="2092" y="3439">Ptr&lt; LrWpanMacPibAttributes &gt; &gt;</text></g>
<g id="cbScan" class="n"><rect x="1989" y="3471" width="206" height="40"/><text x="2092" y="3487">ns3::Callback&lt; void,</text><text x="2092" y="3502">MlmeScanConfirmParams &gt;</text></g>
<g id="cbSet" class="n"><rect x="1994" y="3540" width="197" height="40"/><text x="2092" y="3556">ns3::Callback&lt; void,</text><text x="2092" y="3571">MlmeSetConfirmParams &gt;</text></g>
<g id="cbData" class="n"><rect x="1990" y="3604" width="203" height="40"/><text x="2091" y="3620">ns3::Callback&lt; void,</text><text x="2091" y="3635">McpsDataConfirmParams &gt;</text></g>
<g id="cbPoll" class="n"><rect x="1992" y="3668" width="200" height="40"/><text x="2092" y="3684">ns3::Callback&lt; void,</text><text x="2092" y="3699">MlmePollConfirmParams &gt;</text></g>
<g id="cbDataInd" class="n"><rect x="1989" y="3733" width="206" height="54"/><text x="2092" y="3749">ns3::Callback&lt; void,</text><text x="2092" y="3764">McpsDataIndicationParams,</text><text x="2092" y="3779">Ptr&lt; Packet &gt; &gt;</text></g>
<g id="assocStat" class="n"><rect x="1999" y="3811" width="187" height="25"/><text x="2092" y="3828">LrWpanAssociationStatus</text></g>
<g id="pend" class="n"><rect x="2005" y="3861" width="174" height="25"/><text x="2092" y="3878">PendingPrimitiveStatus</text></g>
</svg>
